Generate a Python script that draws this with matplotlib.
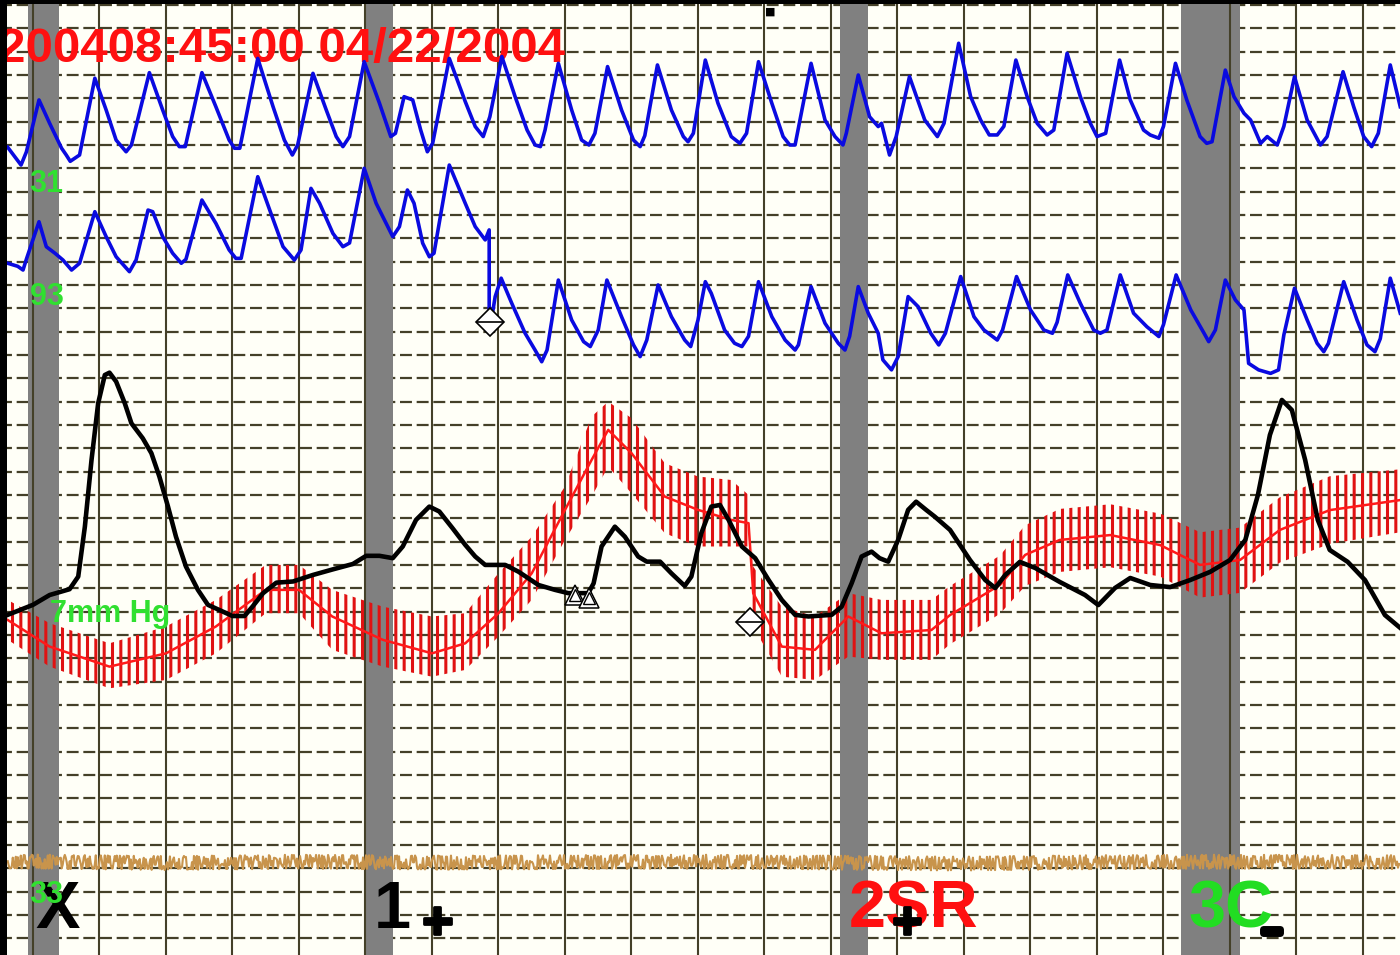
import matplotlib
matplotlib.use('Agg')
import matplotlib.pyplot as plt
import matplotlib.patheffects as pe
import numpy as np

# chart units: x = seconds (one column per second), y = grid rows counted from the top line
n_sec = 21
n_rows = 41

# grey event bands (start, end) in seconds
bands = [(-0.08, 0.39), (5.0, 5.41), (12.14, 12.56), (17.26, 18.15)]

# top blue trace
blue1_t = [-0.38, -0.18, -0.10, 0.09, 0.25, 0.43, 0.50, 0.56, 0.70, 0.93, 1.10, 1.25, 1.40, 1.48,
           1.75, 1.95, 2.10, 2.20, 2.29, 2.54, 2.75, 2.95, 3.03, 3.11, 3.38, 3.61, 3.78, 3.90, 3.98,
           4.21, 4.41, 4.56, 4.66, 4.76, 4.98, 5.21, 5.38, 5.45, 5.58, 5.71, 5.83, 5.93, 6.01, 6.26,
           6.50, 6.65, 6.77, 6.87, 7.05, 7.25, 7.43, 7.55, 7.63, 7.70, 7.90, 8.10, 8.25, 8.36, 8.45,
           8.64, 8.85, 9.03, 9.13, 9.20, 9.39, 9.60, 9.78, 9.85, 9.93, 10.11, 10.30, 10.50, 10.63,
           10.73, 10.91, 11.11, 11.28, 11.38, 11.46, 11.70, 11.91, 12.06, 12.18, 12.23, 12.41, 12.58,
           12.71, 12.76, 12.88, 12.98, 13.18, 13.41, 13.60, 13.70, 13.92, 14.10, 14.25, 14.38, 14.50,
           14.60, 14.78, 14.95, 15.10, 15.25, 15.35, 15.55, 15.75, 15.90, 16.00, 16.13, 16.34, 16.50,
           16.70, 16.80, 16.93, 17.00, 17.18, 17.35, 17.55, 17.65, 17.73, 17.93, 18.06, 18.21, 18.31,
           18.46, 18.56, 18.71, 18.81, 18.97, 19.16, 19.36, 19.46, 19.70, 19.86, 20.01, 20.13, 20.23,
           20.41, 20.56]
blue1_r = [6.10, 6.86, 6.30, 4.07, 5.07, 6.14, 6.43, 6.70, 6.43, 3.14, 4.50, 5.79, 6.29, 6.00,
           2.90, 4.50, 5.64, 6.07, 6.07, 2.90, 4.36, 5.79, 6.14, 6.14, 2.29, 4.36, 5.79, 6.43, 6.00,
           2.93, 4.50, 5.64, 6.07, 5.64, 2.43, 4.21, 5.64, 5.50, 3.93, 4.07, 5.36, 6.29, 5.93, 2.29,
           4.14, 5.21, 5.64, 4.79, 2.21, 3.93, 5.36, 6.00, 6.07, 5.36, 2.50, 4.50, 5.79, 6.00, 5.50,
           2.64, 4.50, 5.79, 6.07, 5.60, 2.57, 4.50, 5.64, 5.86, 5.50, 2.36, 4.21, 5.64, 5.93,
           5.50, 2.43, 4.21, 5.64, 6.00, 6.00, 2.50, 4.93, 5.64, 6.00, 5.50, 3.00, 4.79,
           5.21, 5.07, 6.43, 5.64, 3.07, 4.93, 5.64, 5.07, 1.64, 3.93, 4.93, 5.57, 5.57,
           5.20, 2.36, 3.93, 5.07, 5.57, 5.36, 2.07, 3.93, 5.07, 5.64, 5.50, 2.36, 4.07,
           5.36, 5.57, 5.71, 5.20, 2.50, 4.07, 5.64, 5.93, 5.86, 2.79, 3.93, 4.64, 4.93,
           5.93, 5.64, 6.00, 5.20, 3.07, 4.93, 6.00, 5.64, 2.86, 4.36, 5.64, 6.07, 5.50,
           2.57, 4.36]

# second blue trace
blue2_t = [-0.38, -0.23, -0.15, -0.10, 0.09, 0.20, 0.33, 0.45, 0.58, 0.70, 0.93, 1.10, 1.25, 1.45,
           1.55, 1.73, 1.80, 1.95, 2.10, 2.23, 2.30, 2.54, 2.75, 2.95, 3.05, 3.13, 3.38, 3.56, 3.76,
           3.93, 4.03, 4.18, 4.31, 4.51, 4.66, 4.76, 4.98, 5.16, 5.31, 5.41, 5.51, 5.63, 5.73, 5.86,
           5.96, 6.03, 6.26, 6.50, 6.65, 6.80, 6.86, 6.86, 6.95, 7.04, 7.20, 7.40, 7.55, 7.65, 7.73,
           7.90, 8.10, 8.28, 8.38, 8.50, 8.63, 8.85, 9.03, 9.13, 9.23, 9.40, 9.60, 9.80, 9.89, 10.00,
           10.11, 10.20, 10.40, 10.55, 10.66, 10.76, 10.91, 11.11, 11.31, 11.46, 11.51, 11.70, 11.91,
           12.11, 12.21, 12.28, 12.41, 12.56, 12.71, 12.78, 12.91, 13.01, 13.16, 13.31, 13.50, 13.62,
           13.72, 13.95, 14.15, 14.30, 14.50, 14.58, 14.79, 15.00, 15.20, 15.33, 15.40, 15.56, 15.75,
           15.95, 16.05, 16.15, 16.35, 16.55, 16.75, 16.93, 17.00, 17.19, 17.41, 17.61, 17.68, 17.78,
           17.93, 18.08, 18.21, 18.28, 18.43, 18.61, 18.73, 18.81, 18.97, 19.16, 19.31, 19.41, 19.48,
           19.71, 19.91, 20.06, 20.18, 20.26, 20.41, 20.56]
blue2_r = [11.07, 11.20, 11.36, 10.90, 9.29, 10.36, 10.64, 10.93, 11.36, 11.07, 8.86, 9.93, 10.79, 11.43,
           10.93, 8.79, 8.86, 9.93, 10.64, 11.07, 10.90, 8.36, 9.36, 10.50, 10.86, 10.86, 7.36, 8.79, 10.36,
           10.93, 10.50, 7.86, 8.50, 9.79, 10.36, 10.20, 7.00, 8.50, 9.36, 9.93, 9.50, 7.93, 8.50, 10.21,
           10.79, 10.64, 6.86, 8.50, 9.50, 10.07, 9.64, 14.07, 12.50, 11.71, 12.79, 14.07, 14.79, 15.29, 14.79,
           11.79, 13.50, 14.43, 14.64, 13.93, 11.79, 13.36, 14.57, 15.07, 14.36, 12.00, 13.36, 14.36, 14.64, 13.50,
           11.86, 12.36, 13.93, 14.50, 14.64, 14.20, 11.86, 13.36, 14.36, 14.79, 14.57, 12.07, 13.64,
           14.50, 14.79, 14.20, 12.07, 13.21, 14.07, 15.21, 15.64, 15.07, 12.50, 12.93, 14.07, 14.57,
           14.07, 11.64, 13.36, 13.93, 14.36, 13.93, 11.64, 13.07, 13.93, 14.07, 13.60, 11.57, 12.79,
           13.93, 14.07, 13.93, 11.57, 13.21, 13.79, 14.21, 13.70, 11.57, 13.07, 14.07, 14.43, 13.93,
           11.79, 12.64, 13.07, 15.36, 15.64, 15.79, 15.64, 14.14, 12.14, 13.50, 14.50, 14.86, 14.50,
           11.86, 13.50, 14.57, 14.86, 14.30, 11.71, 13.21]

# black trace
black_t = [-0.38, 0.00, 0.25, 0.55, 0.68, 0.78, 0.88, 0.98, 1.08, 1.15, 1.25, 1.38, 1.48, 1.65, 1.78,
           1.90, 2.03, 2.15, 2.30, 2.48, 2.63, 2.80, 3.00, 3.18, 3.30, 3.46, 3.66, 3.91, 4.21, 4.51,
           4.81, 5.01, 5.21, 5.41, 5.56, 5.76, 5.96, 6.11, 6.31, 6.50, 6.65, 6.80, 7.10, 7.30, 7.60,
           7.85, 8.05, 8.35, 8.43, 8.55, 8.75, 8.90, 9.10, 9.23, 9.43, 9.60, 9.80, 9.90, 10.05, 10.20,
           10.33, 10.46, 10.66, 10.86, 11.06, 11.26, 11.46, 11.66, 12.01, 12.16, 12.31, 12.46, 12.61,
           12.73, 12.86, 13.01, 13.16, 13.28, 13.43, 13.56, 13.79, 14.09, 14.32, 14.47, 14.62, 14.84,
           15.07, 15.44, 15.82, 16.02, 16.27, 16.50, 16.80, 17.10, 17.40, 17.70, 18.00, 18.23, 18.42,
           18.60, 18.78, 18.93, 19.13, 19.32, 19.50, 19.77, 20.03, 20.33, 20.56]
black_r = [26.14, 25.71, 25.29, 25.04, 24.50, 22.36, 19.50, 17.07, 15.86, 15.76, 16.14, 17.07, 17.93, 18.57, 19.21,
           20.21, 21.50, 22.79, 24.07, 25.07, 25.71, 25.93, 26.19, 26.19, 25.79, 25.21, 24.76, 24.71, 24.43, 24.19,
           23.96, 23.61, 23.61, 23.71, 23.21, 22.07, 21.50, 21.71, 22.43, 23.14, 23.64, 24.00, 24.00, 24.29, 24.86,
           25.07, 25.21, 25.21, 24.79, 23.21, 22.36, 22.79, 23.64, 23.86, 23.86, 24.36, 24.90, 24.50, 22.64, 21.50,
           21.43, 22.07, 23.21, 23.71, 24.64, 25.50, 26.14, 26.21, 26.14, 25.79, 24.79, 23.64, 23.43,
           23.71, 23.86, 22.93, 21.64, 21.29, 21.64, 21.93, 22.50, 23.79, 24.65, 24.99, 24.43, 23.87,
           24.13, 24.73, 25.29, 25.72, 24.99, 24.56, 24.86, 24.95, 24.65, 24.30, 23.79, 22.93, 21.00,
           18.43, 16.93, 17.36, 19.50, 22.07, 23.36, 23.87, 24.65, 26.15, 26.70]

# red trace: centre line and pulse envelope
red_t = [-0.38, 0.25, 1.15, 2.00, 2.75, 3.50, 4.00, 4.50, 5.26, 6.00, 6.50, 7.00, 7.50, 8.00, 8.40,
         8.65, 9.00, 9.50, 10.00, 10.50, 10.76, 10.83, 11.26, 11.76, 12.26, 12.76, 13.51, 13.79, 14.54,
         14.92, 15.44, 16.20, 16.95, 17.55, 18.15, 18.75, 19.50, 20.56]
red_mid = [26.36, 27.50, 28.36, 27.79, 26.64, 25.07, 25.07, 26.21, 27.21, 27.79, 27.36, 26.07, 24.36, 21.64, 19.50,
           18.21, 19.21, 21.07, 21.64, 22.07, 22.21, 25.21, 27.50, 27.64, 26.21, 26.93, 26.79, 26.15, 24.86,
           23.57, 22.93, 22.72, 23.15, 24.00, 23.79, 22.50, 21.65, 21.22]
red_top = [25.50, 26.50, 27.36, 26.64, 25.50, 24.00, 24.00, 25.07, 25.79, 26.21, 26.07, 24.36, 22.79, 20.64, 17.64,
           17.00, 17.71, 19.64, 20.21, 20.36, 21.00, 24.07, 25.79, 26.21, 25.21, 25.50, 25.50, 24.90, 23.60,
           22.30, 21.60, 21.40, 21.80, 22.60, 22.40, 21.10, 20.20, 19.90]
red_bot = [27.21, 28.36, 29.29, 28.93, 27.79, 26.07, 26.07, 27.64, 28.36, 28.79, 28.50, 27.07, 25.50, 22.93, 21.07,
           19.79, 20.93, 22.64, 23.21, 23.21, 23.21, 26.64, 28.79, 28.93, 27.93, 28.07, 28.07, 27.40, 26.10,
           24.90, 24.30, 24.10, 24.50, 25.40, 25.20, 23.90, 23.10, 22.60]

# brown (EMG) trace, baseline level
brown_t = [-0.38, 2.0, 4.0, 6.0, 8.0, 10.0, 12.0, 14.0, 16.0, 18.0, 20.56]
brown_r = [36.70, 36.78, 36.72, 36.76, 36.74, 36.72, 36.76, 36.80, 36.74, 36.72, 36.74]

# event markers
diamond_t = [6.87, 10.78]
diamond_r = [13.59, 26.45]
tri_t = [8.15, 8.36]
tri_r = [25.30, 25.40]

timestamp = '200408:45:00 04/22/2004'
labels = [('X', 0.03, 'black'), ('1', 5.12, 'black'), ('2SR', 12.27, '#ff1010'), ('3C', 17.38, '#22dd22')]

grid_col = '#444028'
fnt = 'Liberation Sans'

plt.rcParams['lines.scale_dashes'] = False
fig = plt.figure(figsize=(14, 9.55), dpi=100, facecolor='#fffff7')
ax = fig.add_axes([0, 0, 1, 1])
ax.set_xlim(-33 / 66.5, 1367 / 66.5)
ax.set_ylim(950 / 23.33, -5 / 23.33)
ax.axis('off')

# grid
for r in range(n_rows):
    ax.axhline(r, color=grid_col, lw=1.6, ls=(0, (8.6, 3.4)), zorder=1)
for a, b in bands:
    ax.axvspan(a, b, color='#808080', lw=0, zorder=2)
for s in range(n_sec):
    ax.axvline(s, color=grid_col, lw=1.5, zorder=3)

# brown noisy trace
ln, = ax.plot(brown_t, brown_r, color='#c8944c', lw=1.5, zorder=4)
ln.set_sketch_params(scale=7, length=2.5, randomness=4)

# red pulse band
plt.rcParams['hatch.linewidth'] = 2.2
ax.fill_between(red_t, red_top, red_bot, facecolor='none', edgecolor='#e01212',
                hatch='||', linewidth=0, zorder=5)
ax.plot(red_t, red_mid, color='#ff1a1a', lw=1.8, zorder=5.5)

# blue and black traces
ax.plot(blue1_t, blue1_r, color='#0a0ae0', lw=2.6, zorder=6)
ax.plot(blue2_t, blue2_r, color='#0a0ae0', lw=2.6, zorder=6)
ax.plot(black_t, black_r, color='black', lw=3.3, zorder=6)

# event markers
ax.plot(diamond_t, diamond_r, ls='none', marker='D', ms=14, mfc='white', mec='black', mew=1.2, zorder=8)
ax.plot(diamond_t, diamond_r, ls='none', marker='_', ms=20, mec='black', mew=1.2, zorder=8)
ax.plot(tri_t, tri_r, ls='none', marker='^', ms=15, mfc='white', mec='black', mew=1.1, zorder=8)
ax.plot(tri_t, tri_r, ls='none', marker='^', ms=8, mfc='white', mec='black', mew=1.0, zorder=8)

# text
ax.text(-0.52, 2.44, timestamp, color='#ff1010', fontsize=35.5, fontweight='bold', family=fnt,
        va='baseline', ha='left', zorder=3.5)
green = '#30e030'
ax.text(-0.05, 8.01, '31', color=green, fontsize=22, fontweight='bold', family=fnt, va='baseline', zorder=9)
ax.text(-0.05, 12.86, '93', color=green, fontsize=22, fontweight='bold', family=fnt, va='baseline', zorder=9)
ax.text(0.26, 26.45, '7mm Hg', color=green, fontsize=22, fontweight='bold', family=fnt, va='baseline', zorder=9)
for txt, x, c in labels:
    ax.text(x, 39.56, txt, color=c, fontsize=48, fontweight='bold', family=fnt, va='baseline', zorder=9)
ax.text(-0.05, 38.49, '33', color=green, fontsize=22, fontweight='bold', family=fnt, va='baseline', zorder=9.5)
pk = [pe.withStroke(linewidth=2, foreground='black')]
ax.text(6.08, 39.4, '+', color='black', fontsize=38, fontweight='bold', family=fnt,
        ha='center', va='center', path_effects=pk, zorder=9.5)
ax.text(13.14, 39.4, '+', color='black', fontsize=38, fontweight='bold', family=fnt,
        ha='center', va='center', path_effects=pk, zorder=9.5)
ax.text(18.62, 39.8, '\u2212', color='black', fontsize=24, fontweight='bold', family=fnt,
        ha='center', va='center', path_effects=[pe.withStroke(linewidth=5, foreground='black')], zorder=9.5)
ax.text(11.08, 0.3, '\u25a0', color='black', fontsize=8, ha='center', va='center', zorder=9.5)

# screen border
ax.axvspan(-0.6, -0.385, color='black', lw=0, zorder=10)
ax.axhspan(-0.3, -0.06, color='black', lw=0, zorder=10)

fig.savefig('out.png', dpi=100, facecolor=fig.get_facecolor())
